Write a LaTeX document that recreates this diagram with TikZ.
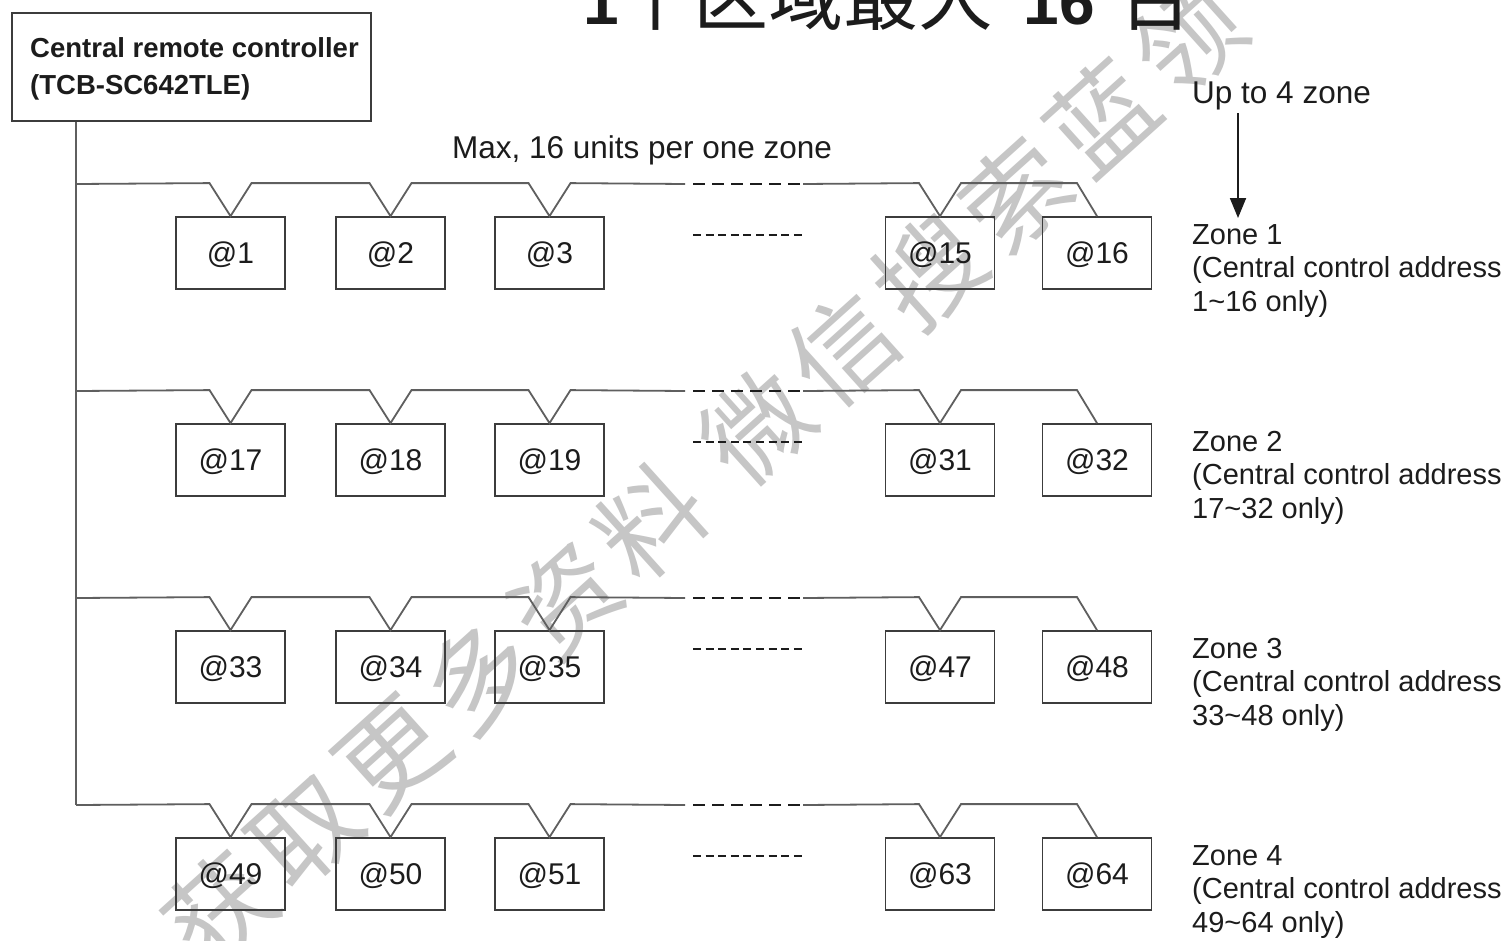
\documentclass[tikz,border=0pt]{standalone}
\usepackage{fontspec}
\setmainfont{Liberation Sans}
\newfontfamily\cjk{Noto Sans CJK SC}
\usetikzlibrary{arrows.meta}
\definecolor{wm}{RGB}{198,198,198}
\definecolor{ink}{RGB}{28,28,28}
\definecolor{busc}{RGB}{95,95,95}
\definecolor{boxc}{RGB}{60,60,60}
\begin{document}
\begin{tikzpicture}[x=1pt,y=-1pt,
  every node/.append style={text=ink},
  unitbox/.style={draw=boxc, line width=1.8pt, minimum width=109pt, minimum height=72pt,
    inner sep=0pt, font=\fontsize{30}{36}\selectfont, text height=21.5pt, text depth=0pt},
  bus/.style={draw=busc, line width=1.8pt, line join=miter},
  longdash/.style={draw=ink, line width=1.8pt, dash pattern=on 12pt off 7pt},
  shortdash/.style={draw=ink, line width=1.8pt, dash pattern=on 8pt off 4.6pt},
  zonetext/.style={anchor=north west, inner sep=0pt, align=left, font=\fontsize{29}{33.5}\selectfont},
  plaintext/.style={inner sep=0pt, font=\fontsize{31.5}{36}\selectfont},
  wmchar/.style={text=wm, font=\cjk\fontsize{105}{105}\selectfont, rotate=42, inner sep=0pt}
]
\useasboundingbox (0,0) rectangle (1503,940);
\fill[white] (0,0) rectangle (1503,940);

% watermark
\foreach \c [count=\i from 0] in {获,取,更,多,资,料,微,信,搜,索,蓝,领}{
  \pgfmathsetmacro\d{\i*116+(\i>5)*26}
  \node[wmchar] (wm\i) at ({220+0.7431*\d},{910-0.6691*\d}) {\c};
}

% title
\node[anchor=base west, inner sep=0pt] (title) at (583,24)
  {{\bfseries\fontsize{64}{64}\selectfont 1}{\cjk\fontsize{75}{75}\selectfont 个区域最大}\hspace{30pt}{\bfseries\fontsize{64}{64}\selectfont 16}\hspace{24pt}{\cjk\fontsize{75}{75}\selectfont 台}};

% controller
\node[draw=boxc, line width=1.8pt, minimum width=359pt, minimum height=108pt, anchor=north west, inner sep=0pt] (ctrl) at (11,12) {};
\node[anchor=base west, inner sep=0pt, font=\bfseries\fontsize{27.5}{33}\selectfont] (ctrl1) at (30,57) {Central remote controller};
\node[anchor=base west, inner sep=0pt, font=\bfseries\fontsize{27.5}{33}\selectfont] (ctrl2) at (30,94) {(TCB-SC642TLE)};
\coordinate (trunktop) at ([xshift=65pt]ctrl.south west);
\coordinate (trunkbot) at (76,805);
\draw[bus] (trunktop) -- (trunkbot);

% headings
\node[plaintext, anchor=base] (maxtxt) at (642,158) {Max, 16 units per one zone};
\node[plaintext, anchor=base west] (upto) at (1192,103) {Up to 4 zone};
\coordinate (arrtop) at (1238,113);
\coordinate (arrtip) at (1238,218);
\draw[draw=ink, line width=1.8pt, -{Triangle[width=16pt,length=20pt]}] (arrtop) -- (arrtip);

% zones
\foreach \k in {1,...,4}{
  \pgfmathsetmacro\Y{184+207*(\k-1)}
  \pgfmathtruncatemacro\base{16*(\k-1)}
  \pgfmathtruncatemacro\lo{\base+1}
  \pgfmathtruncatemacro\hi{\base+16}
  \foreach \xc/\n [count=\i] in {230.5/1,390.5/2,549.5/3,940/15,1097/16}{
    \pgfmathtruncatemacro\num{\base+\n}
    \node[unitbox] (u\k-\i) at (\xc,\Y+69) {@\num};
  }
  \coordinate (j\k) at (76,\Y);
  \coordinate (d\k a) at (685,\Y);
  \coordinate (d\k b) at (803,\Y);
  \draw[bus] (j\k)
    -- ([xshift=-21pt,yshift=33pt]u\k-1.north) -- (u\k-1.north) -- ([xshift=21pt,yshift=33pt]u\k-1.north)
    -- ([xshift=-21pt,yshift=33pt]u\k-2.north) -- (u\k-2.north) -- ([xshift=21pt,yshift=33pt]u\k-2.north)
    -- ([xshift=-21pt,yshift=33pt]u\k-3.north) -- (u\k-3.north) -- ([xshift=21pt,yshift=33pt]u\k-3.north)
    -- (d\k a);
  \draw[longdash] (693,\Y) -- (800,\Y);
  \draw[bus] (d\k b)
    -- ([xshift=-21pt,yshift=33pt]u\k-4.north) -- (u\k-4.north) -- ([xshift=21pt,yshift=33pt]u\k-4.north)
    -- ([xshift=-20pt,yshift=33pt]u\k-5.north) -- (u\k-5.north);
  \draw[shortdash] (693,\Y+51) -- (803,\Y+51);
  \node[zonetext] (z\k) at (1192,\Y+40) {Zone \k\\(Central control address\\\lo\textasciitilde\hi{} only)};
}
\end{tikzpicture}
\end{document}
